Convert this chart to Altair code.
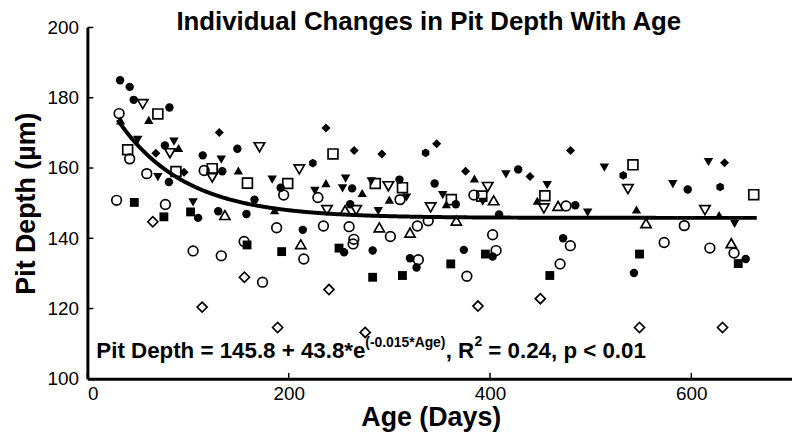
import altair as alt
import pandas as pd

# ---- data (Age in days, Pit depth in µm) ----
FC_AGE = [32.5, 42, 46, 81.5, 77, 81, 114.6, 149, 134, 110, 130, 192, 263, 310, 166, 158, 214, 255, 283.4, 345, 366, 428, 484.7, 409, 320.5, 327, 374, 402.6, 472.6, 596.4, 654, 543, 261]
FC_DEPTH = [185.0, 183.1, 179.4, 177.2, 166.4, 156, 163.6, 165.5, 159.1, 145.8, 147.7, 154.4, 154.2, 156.7, 151, 146.9, 142.4, 136, 136.5, 155.6, 149.7, 159.6, 149.4, 146.8, 134.3, 131.7, 136.7, 134.8, 140, 153.9, 134.1, 130.1, 149.7]

FH_AGE = [224, 336, 532.3, 628.6]
FH_DEPTH = [161.4, 164.3, 157.9, 154.6]

OC_AGE = [31.5, 42, 59, 116, 29, 77.5, 105, 133, 195, 229, 310.6, 188, 234.5, 260, 301, 155.7, 215, 264.7, 264, 174, 384, 475.5, 327.8, 338.6, 402.6, 328.8, 377, 406, 479.8, 469.6, 593, 573, 618.4, 642.4]
OC_DEPTH = [175.5, 162.6, 158.4, 159.3, 150.8, 149.6, 136.4, 135, 152.3, 151.6, 151, 143, 143.5, 143.3, 140.5, 139.1, 134.1, 139.7, 138.4, 127.5, 152.3, 149.2, 143.5, 145, 141, 133.9, 129.2, 136.5, 137.9, 132.7, 143.6, 138.8, 137.2, 135.8]

OS_AGE = [70, 40, 88, 124, 159, 199, 244, 286, 313, 361.6, 391.8, 454.5, 542, 662]
OS_DEPTH = [175.4, 165.2, 159, 159.8, 155.7, 155.6, 164, 155.6, 154.4, 151, 152, 152.1, 160.9, 152.4]

FS_AGE = [46.6, 76, 102.5, 158.6, 193, 250, 283.4, 313, 361, 395.4, 459.4, 548.5, 646.6]
FS_DEPTH = [150.2, 146.1, 147.5, 138.1, 136.2, 137.2, 128.9, 129.4, 132.7, 135.5, 129.4, 135.5, 132.8]

FD_AGE = [68, 96, 131, 237, 265, 292.6, 347, 375.7, 439.7, 480, 633]
FD_DEPTH = [164.2, 158.8, 170.1, 171.4, 165, 164, 166.9, 159.1, 157.6, 165, 161.5]

OD_AGE = [65, 114, 156, 240, 189, 276, 388, 450, 548.5, 631]
OD_DEPTH = [144.7, 120.4, 128.9, 125.4, 114.6, 113.2, 120.7, 122.8, 114.6, 114.6]

FTU_AGE = [33, 61, 90.6, 150, 237, 273, 300, 186, 356.6, 384.5, 447, 545.5, 627.6]
FTU_DEPTH = [173.5, 173.7, 165.7, 159.3, 155.7, 152.9, 151, 148, 149.7, 157, 150.7, 148.2, 146.6]

OTU_AGE = [136.6, 256, 290, 212, 403.6, 467.6, 366.5, 320.5, 555, 639.7]
OTU_DEPTH = [146.6, 148, 143.1, 138.3, 150.8, 149.2, 145, 141.6, 144.3, 138.6]

FTD_AGE = [50, 86, 70, 133, 105, 183.6, 226, 256.5, 253.5, 282, 289, 317, 353, 392.8, 415.8, 456.8, 497, 513.6, 581.6, 617, 643]
FTD_DEPTH = [168, 167.5, 157.4, 162.4, 150.2, 156.7, 153.5, 157, 154.2, 156.2, 147.7, 151.6, 152.3, 150.4, 158.2, 155.1, 147.3, 160.1, 155.4, 161.7, 144.1]

OTD_AGE = [55, 82, 124, 171, 210.5, 238, 267, 299, 341, 397.7, 453.5, 537, 613.5]
OTD_DEPTH = [178.2, 164.2, 157.3, 165.9, 159.6, 148, 148, 154.8, 148.8, 154.6, 148.5, 154, 148]

# fit shown in the figure: Pit Depth = 145.8 + 43.8*e^(-0.015*Age)
FIT_COEF = [145.8, 43.8, -0.015]
FIT_RANGE = [30, 665]

X_TICKS = [0, 200, 400, 600]
Y_TICKS = [100, 120, 140, 160, 180, 200]

TITLE = "Individual Changes in Pit Depth With Age"
X_TITLE = "Age (Days)"
Y_TITLE = "Pit Depth (µm)"

# ---- build table ----
series = [
    ("fc", 1, FC_AGE, FC_DEPTH), ("fh", 1, FH_AGE, FH_DEPTH),
    ("fs", 1, FS_AGE, FS_DEPTH), ("fd", 1, FD_AGE, FD_DEPTH),
    ("ftu", 1, FTU_AGE, FTU_DEPTH), ("ftd", 1, FTD_AGE, FTD_DEPTH),
    ("oc", 0, OC_AGE, OC_DEPTH), ("os", 0, OS_AGE, OS_DEPTH),
    ("od", 0, OD_AGE, OD_DEPTH), ("otu", 0, OTU_AGE, OTU_DEPTH),
    ("otd", 0, OTD_AGE, OTD_DEPTH),
]
rows = []
for key, filled, ages, depths in series:
    for a, d in zip(ages, depths):
        rows.append({"age": a, "depth": d, "marker": key, "filled": filled})
df = pd.DataFrame(rows)

HEX = "M0,-1L0.866,-0.5L0.866,0.5L0,1L-0.866,0.5L-0.866,-0.5Z"
keys = ["fc", "fh", "fs", "fd", "ftu", "ftd", "oc", "os", "od", "otu", "otd"]
shapes = ["circle", HEX, "square", "diamond", "triangle-up", "triangle-down",
          "circle", "square", "diamond", "triangle-up", "triangle-down"]
sizes = [72, 110, 68, 210, 115, 115, 64, 62, 190, 105, 105]

FONT = "Liberation Sans, Arial, sans-serif"
W, H = 710, 354

xscale = alt.Scale(domain=[0, 700], nice=False)
yscale = alt.Scale(domain=[100, 200], nice=False)

xenc = alt.X("age:Q", scale=xscale,
             axis=alt.Axis(values=X_TICKS, title=X_TITLE, titleX=346, titleY=47,
                           titleBaseline="alphabetic", labelPadding=6))
yenc = alt.Y("depth:Q", scale=yscale,
             axis=alt.Axis(values=Y_TICKS, title=Y_TITLE, titleX=-53, titleY=177,
                           titleAngle=-90, titleBaseline="alphabetic", labelPadding=9))
shape_enc = alt.Shape("marker:N", scale=alt.Scale(domain=keys, range=shapes), legend=None)
size_enc = alt.Size("marker:N", scale=alt.Scale(domain=keys, range=sizes), legend=None)

base = alt.Chart(df)
filled_pts = base.transform_filter(alt.datum.filled == 1).mark_point(
    filled=True, color="black", opacity=1).encode(x=xenc, y=yenc, shape=shape_enc, size=size_enc)
open_pts = base.transform_filter(alt.datum.filled == 0).mark_point(
    filled=False, color="black", strokeWidth=1.7, opacity=1).encode(
    x=xenc, y=yenc, shape=shape_enc, size=size_enc)

fit = alt.Chart(alt.sequence(FIT_RANGE[0], FIT_RANGE[1] + 1, 1, as_="age")).transform_calculate(
    depth=f"{FIT_COEF[0]} + {FIT_COEF[1]}*exp({FIT_COEF[2]}*datum.age)"
).mark_line(color="black", strokeWidth=4).encode(x="age:Q", y="depth:Q")

xt = alt.Chart(pd.DataFrame({"age": X_TICKS})).mark_rule(color="black", strokeWidth=1.5).encode(
    x="age:Q", y=alt.value(H), y2=alt.value(H - 6))
yt = alt.Chart(pd.DataFrame({"depth": Y_TICKS})).mark_rule(color="black", strokeWidth=1.5).encode(
    y="depth:Q", x=alt.value(0), x2=alt.value(6))

one = alt.Data(values=[{"k": 1}])

def txt(s, x, y, size, weight="bold"):
    return alt.Chart(one).mark_text(text=s, x=x, y=y, align="left", baseline="alphabetic",
                                    font=FONT, fontSize=size, fontWeight=weight, color="black")

title = alt.Chart(one).mark_text(text=TITLE, x=344, y=3, align="center", baseline="alphabetic",
                                 font=FONT, fontSize=26, fontWeight="bold", color="black")
eq = [
    txt("Pit Depth = 145.8 + 43.8*e", 9, 333, 22.5),
    txt("(-0.015*Age)", 280, 322, 14),
    txt(", R", 361, 333, 22.5),
    txt("2", 390, 321, 14),
    txt("= 0.24, p < 0.01", 404, 333, 22.5),
]

chart = alt.layer(open_pts, filled_pts, fit, xt, yt, title, *eq).properties(
    width=W, height=H,
    autosize=alt.AutoSizeParams(type="none"),
    padding={"left": 80, "top": 18, "right": 0, "bottom": 54},
).configure_view(strokeWidth=0).configure_axis(
    domainColor="black", domainWidth=3, grid=False, ticks=False, tickSize=0,
    labelFont=FONT, labelFontSize=19, labelColor="black",
    titleFont=FONT, titleFontSize=27, titleFontWeight="bold", titleColor="black",
)

chart.save("out.html", embed_options={"renderer": "svg", "actions": False})
